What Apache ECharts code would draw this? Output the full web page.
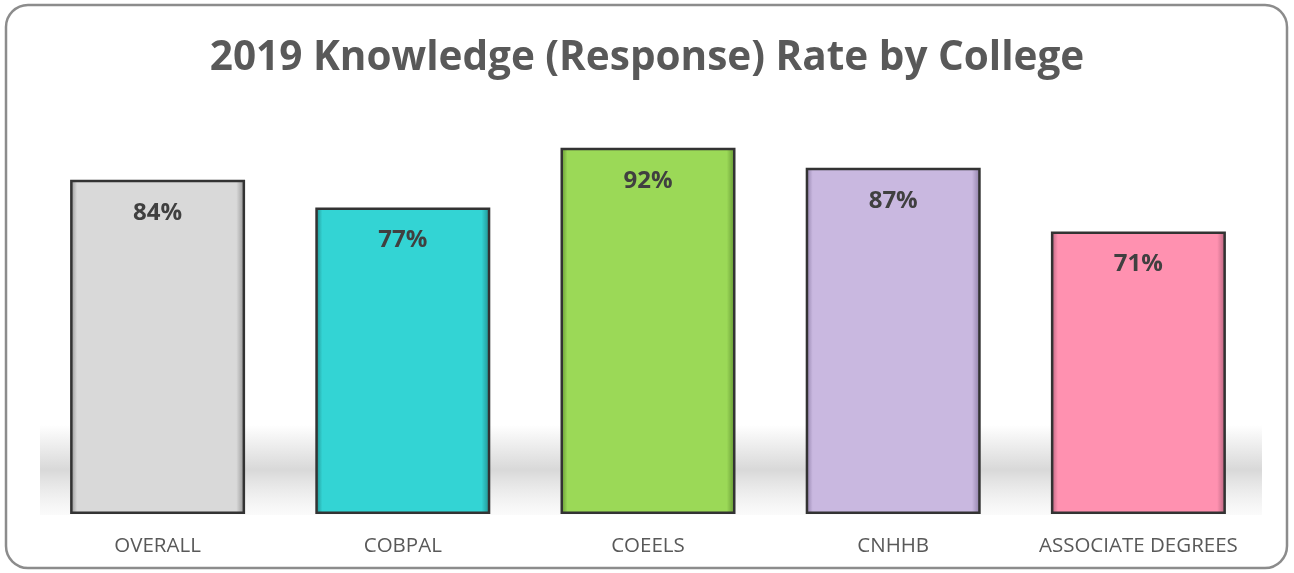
<!DOCTYPE html>
<html>
<head>
<meta charset="utf-8">
<script src="https://cdn.jsdelivr.net/npm/echarts@6/dist/echarts.min.js"></script>
<style>
  html, body { margin: 0; padding: 0; background: #fff; }
  #myChart { width: 1294px; height: 573px; }
</style>
</head>
<body>
<div id="myChart"></div>
<script>
// chart data
const colleges = ['OVERALL', 'COBPAL', 'COEELS', 'CNHHB', 'ASSOCIATE DEGREES']
const rates = [84, 77, 92, 87, 71]
const barColors = ['#d9d9d9', '#33d4d4', '#9bd957', '#c9b8e0', '#ff91b0']
const edgeColors = ['#8c8c8c', '#1f8a8a', '#5f8f30', '#8a7aa3', '#b0607a']

let myChart = echarts.init(document.getElementById('myChart'))

function bevel (base, edge) {
  return new echarts.graphic.LinearGradient(0, 0, 1, 0, [
    { offset: 0, color: edge },
    { offset: 0.04, color: base },
    { offset: 0.95, color: base },
    { offset: 1, color: edge }
  ])
}

myChart.setOption({
  backgroundColor: '#fff',
  title: {
    text: '2019 Knowledge (Response) Rate by College',
    left: 'center',
    top: 33,
    textStyle: {
      color: '#595959',
      fontSize: 40.5,
      fontWeight: 'bold',
      fontFamily: 'Open Sans'
    }
  },
  graphic: [
    {
      type: 'rect',
      shape: { x: 6, y: 5, width: 1281, height: 563, r: 22 },
      style: { fill: 'none', stroke: '#8c8c8c', lineWidth: 2.5 },
      z: 100
    },
    {
      type: 'rect',
      shape: { x: 40, y: 425, width: 1222, height: 90 },
      style: {
        fill: new echarts.graphic.LinearGradient(0, 0, 0, 1, [
          { offset: 0, color: 'rgba(200,200,200,0)' },
          { offset: 0.5, color: 'rgba(200,200,200,0.7)' },
          { offset: 1, color: 'rgba(225,225,225,0.15)' }
        ])
      },
      z: -1
    }
  ],
  grid: {
    left: 35,
    right: 33,
    top: 116,
    bottom: 59
  },
  xAxis: {
    type: 'category',
    data: colleges,
    axisLine: { show: false },
    axisTick: { show: false },
    axisLabel: {
      interval: 0,
      color: '#595959',
      fontSize: 20.5,
      fontFamily: 'Open Sans',
      margin: 22
    }
  },
  yAxis: {
    type: 'value',
    min: 0,
    max: 100,
    show: false,
    splitLine: { show: false }
  },
  series: [
    {
      type: 'bar',
      barWidth: 175,
      data: rates.map(function (v, i) {
        return {
          value: v,
          itemStyle: {
            color: bevel(barColors[i], edgeColors[i]),
            borderColor: '#333',
            borderWidth: 2.5
          }
        }
      }),
      label: {
        show: true,
        position: 'insideTop',
        distance: 21,
        formatter: '{c}%',
        color: '#404040',
        fontSize: 24,
        fontWeight: 'bold',
        fontFamily: 'Open Sans'
      }
    }
  ]
})
</script>
</body>
</html>
